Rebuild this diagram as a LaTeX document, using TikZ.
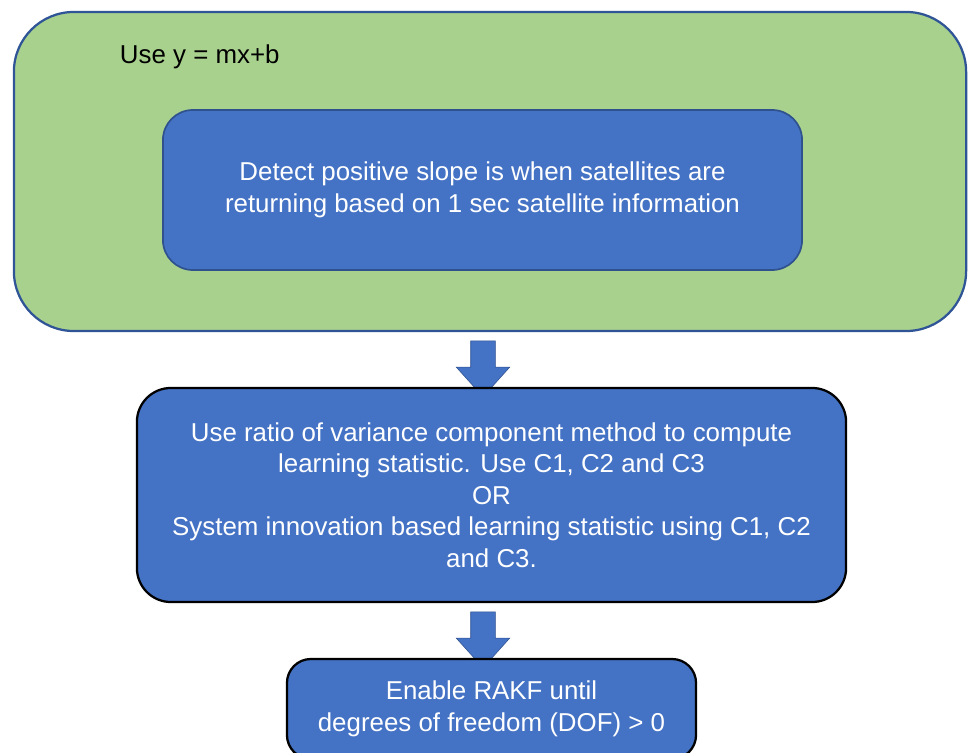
\documentclass[tikz,border=0pt]{standalone}
\usepackage{fontspec}
\setmainfont{Liberation Sans}
\usetikzlibrary{shapes.arrows,positioning}
\definecolor{satgreen}{HTML}{A9D18E}
\definecolor{satblue}{HTML}{4472C4}
\definecolor{satedge}{HTML}{2F528F}
\definecolor{satframe}{HTML}{2F5597}
\tikzset{
  sattext/.style={font=\fontsize{18.4}{22.4}\selectfont,align=center},
  satstage/.style={sattext,rectangle,fill=satblue,text=white,inner sep=0pt},
  satouter/.style={rectangle,rounded corners=1.5cm,fill=satgreen,draw=satframe,
                   line width=1.6pt,minimum width=23.8cm,minimum height=7.975cm},
  satinner/.style={satstage,rounded corners=0.75cm,draw=satedge,line width=1.2pt,
                   minimum width=15.975cm,minimum height=4cm},
  satmethod/.style={satstage,rounded corners=0.85cm,draw=black,line width=1.6pt,
                    minimum width=17.725cm,minimum height=5.35cm},
  satresult/.style={satstage,rounded corners=0.6cm,draw=black,line width=1.6pt,
                    minimum width=10.225cm,minimum height=2.5cm},
  satarrow/.style={single arrow,rotate=-90,fill=satblue,draw=satedge,thin,
                   inner xsep=0pt,inner ysep=0.3cm,minimum height=1.4cm,
                   single arrow head extend=0.3625cm,single arrow tip angle=84}
}

\begin{document}
\begin{tikzpicture}[x=0.025cm,y=-0.025cm]
  \useasboundingbox (0,0) rectangle (968,753);
  \clip (0,0) rectangle (968,753);

  % green frame with the slope check
  \node[satouter] (frame) at (490,171.5) {};
  \node[sattext,anchor=west] (line) at (115,57) {Use y = mx+b};
  \node[satinner] (slope) at (482.5,190)
    {Detect positive slope is when satellites are\\
     returning based on 1 sec satellite information};

  % learning statistic
  \node[satarrow] (a1) at (483,362) {};
  \node[satmethod] (stat) at (491.5,495)
    {Use ratio of variance component method to compute\\
     learning statistic. Use C1, C2 and C3\\
     OR\\
     System innovation based learning statistic using C1, C2\\
     and C3.};

  % RAKF switch
  \node[satarrow] (a2) at (483,633) {};
  \node[satresult] (rakf) at (491.5,709)
    {Enable RAKF until\\
     degrees of freedom (DOF) > 0};
\end{tikzpicture}
\end{document}
